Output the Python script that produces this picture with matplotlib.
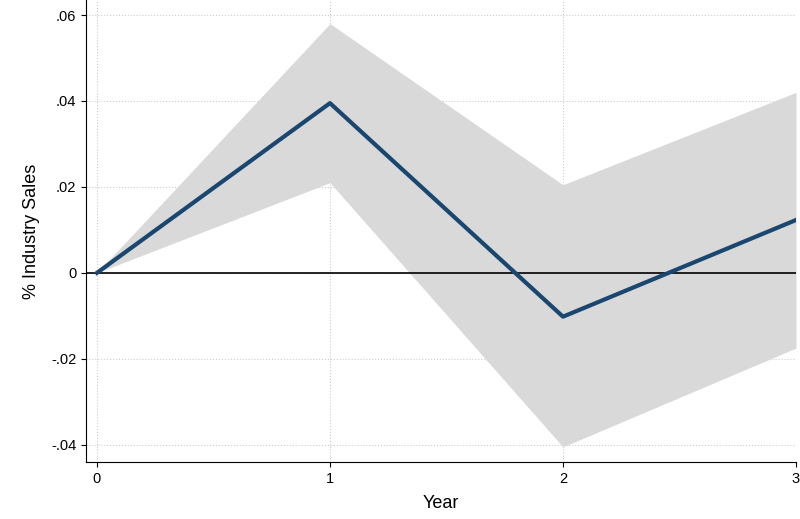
import matplotlib.pyplot as plt

plt.rcParams['font.family'] = ['Liberation Sans', 'DejaVu Sans']

years = [0, 1, 2, 3]
estimate = [0.0, 0.0395, -0.0102, 0.0123]
upper = [0.0, 0.058, 0.0205, 0.042]
lower = [0.0, 0.021, -0.0405, -0.0175]
yticks = [-0.04, -0.02, 0, 0.02, 0.04, 0.06]
ylabels = ['-.04', '-.02', '0', '.02', '.04', '.06']

fig = plt.figure(figsize=(8, 5.19), dpi=100)
ax = fig.add_axes([0.1075, 0.11, 0.8875, 0.89])

ax.fill_between(years, lower, upper, color='#d9d9d9', lw=0, zorder=1)
ax.axhline(0, color='black', lw=1.2, zorder=2)
ax.plot(years, estimate, color='#1a476f', lw=3, zorder=3)

ax.set_xlim(-0.047, 3)
ax.set_ylim(-0.044, 0.0635)
ax.set_xticks(years)
ax.set_yticks(yticks)
ax.set_yticklabels(ylabels)
ax.grid(True, color='#cccccc', ls=':', lw=0.8, zorder=0)
ax.set_axisbelow(True)
for s in ['top', 'right']:
    ax.spines[s].set_visible(False)
ax.tick_params(labelsize=10.5)
ax.set_xlabel('Year', fontsize=13, labelpad=7)
ax.set_ylabel('% Industry Sales', fontsize=13, labelpad=8)

fig.savefig('out.png')
